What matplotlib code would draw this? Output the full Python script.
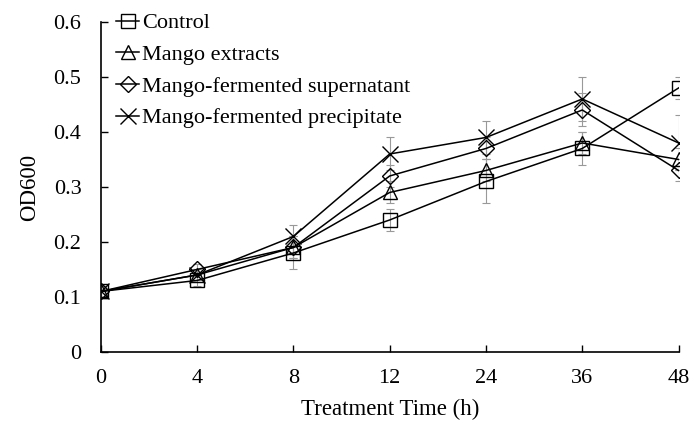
import matplotlib
matplotlib.use("Agg")
import matplotlib.pyplot as plt
import numpy as np

time_labels = ["0", "4", "8", "12", "24", "36", "48"]
series_names = ["Control", "Mango extracts", "Mango-fermented supernatant", "Mango-fermented precipitate"]
control = [0.11, 0.13, 0.18, 0.24, 0.31, 0.37, 0.48]
mango_extracts = [0.11, 0.14, 0.19, 0.29, 0.33, 0.38, 0.35]
supernatant = [0.11, 0.15, 0.19, 0.32, 0.37, 0.44, 0.33]
precipitate = [0.11, 0.14, 0.21, 0.36, 0.39, 0.46, 0.38]
err_control = [0.01, 0.01, 0.03, 0.02, 0.04, 0.03, 0.02]
err_extracts = [0.01, 0.01, 0.02, 0.02, 0.02, 0.02, 0.02]
err_supernatant = [0.01, 0.01, 0.02, 0.02, 0.02, 0.03, 0.02]
err_precipitate = [0.01, 0.01, 0.02, 0.03, 0.03, 0.04, 0.05]
y_ticks = [0, 0.1, 0.2, 0.3, 0.4, 0.5, 0.6]

plt.rcParams['font.family'] = ['Liberation Serif', 'DejaVu Serif']

fig = plt.figure(figsize=(6.91, 4.23), dpi=100)
ax = fig.add_axes([0.146, 0.168, 0.836, 0.780])

x = np.arange(len(time_labels))
data = [control, mango_extracts, supernatant, precipitate]
errs = [err_control, err_extracts, err_supernatant, err_precipitate]
markers = ['s', '^', 'D', 'x']
msizes = [10, 10, 8, 11]

for vals, err, m, ms, name in zip(data, errs, markers, msizes, series_names):
    ax.errorbar(x, vals, yerr=err, fmt='none', ecolor='#999999', elinewidth=0.8,
                capsize=3, capthick=0.8, zorder=1)
    ax.plot(x, vals, color='black', linewidth=1.1, marker=m, markersize=ms,
            markerfacecolor='none', markeredgecolor='black', markeredgewidth=1.0,
            label=name, zorder=2)

ax.set_xlim(0, 6)
ax.set_ylim(0, 0.6)
ax.set_xticks(x)
ax.set_xticklabels(time_labels)
ax.set_yticks(y_ticks)
ax.set_yticklabels(["0" if v == 0 else f"{v:.1f}" for v in y_ticks])
ax.tick_params(axis='both', direction='in', labelsize=16, length=5, width=1.0)
ax.tick_params(axis='y', pad=14)
ax.tick_params(axis='x', pad=12)
for s in ['top', 'right']:
    ax.spines[s].set_visible(False)
for s in ['left', 'bottom']:
    ax.spines[s].set_linewidth(1.2)
ax.set_xlabel("Treatment Time (h)", fontsize=16.5, labelpad=8)
ax.set_ylabel("OD600", fontsize=16.5, labelpad=10)

ax.legend(loc='upper left', bbox_to_anchor=(0.0, 1.075), frameon=False, fontsize=16,
          handlelength=1.0, handletextpad=0.15, labelspacing=0.5, borderaxespad=0.3)

fig.savefig("out.png", dpi=100)
